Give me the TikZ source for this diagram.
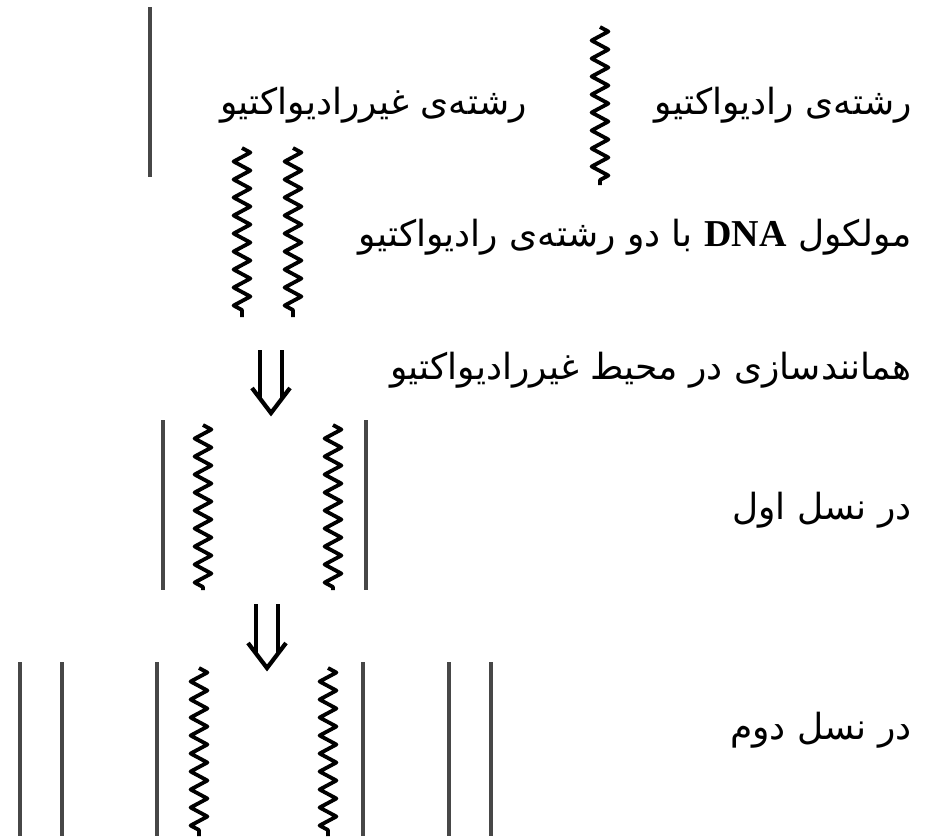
\documentclass[tikz,border=0pt]{standalone}
\usepackage{fontspec}
\setmainfont{Liberation Serif}
\newfontfamily\arabicfont[Script=Arabic]{DejaVu Sans}
\TeXXeTstate=1
\usetikzlibrary{decorations.pathmorphing}
\tikzset{
  coldstrand/.style={line width=1.6pt, black!72},
  hotstrand/.style={line width=1.9pt, line join=round, decorate,
    decoration={zigzag, segment length=9pt, amplitude=4.2pt}},
  genarrow/.style={line width=2pt, double distance=9pt, shorten >=7pt},
  arrowhead/.style={line width=2.1pt, line join=miter},
  rowlabel/.style={anchor=east, inner sep=0pt, font=\arabicfont\fontsize{18}{21}\selectfont}
}
\begin{document}
\begin{tikzpicture}[x=0.5pt, y=-0.5pt]
\useasboundingbox (0,0) rectangle (931,836);
% legend
\draw[coldstrand] (150,7) -- (150,177);
\node[rowlabel] (coldlab) at (527,105) {\beginR رشته‌ی غیررادیواکتیو\endR};
\draw[hotstrand] (600,27) -- (600,185);
\node[rowlabel] (hotlab) at (912,105) {\beginR رشته‌ی رادیواکتیو\endR};
% parent molecule
\draw[hotstrand] (242,148) -- (242,317);
\draw[hotstrand] (293,148) -- (293,317);
\node[rowlabel] (parentlab) at (912,237) {\beginR مولکول \beginL{\normalfont\bfseries\fontsize{19}{21}\selectfont DNA}\endL{} با دو رشته‌ی رادیواکتیو\endR};
% first replication
\coordinate (a1top) at (271,350);
\coordinate (a1tip) at (271,413);
\draw[genarrow] (a1top) -- (a1tip);
\draw[arrowhead] (a1tip) ++(-19,-25) -- (a1tip) -- ++(19,-25);
\node[rowlabel] (replab) at (912,370) {\beginR همانندسازی در محیط غیررادیواکتیو\endR};
% first generation
\draw[coldstrand] (163,420) -- (163,590);
\draw[hotstrand] (203,425) -- (203,590);
\draw[hotstrand] (333,425) -- (333,590);
\draw[coldstrand] (366,420) -- (366,590);
\node[rowlabel] (gen1lab) at (912,510) {\beginR در نسل اول\endR};
% second replication
\coordinate (a2top) at (267,604);
\coordinate (a2tip) at (267,668);
\draw[genarrow] (a2top) -- (a2tip);
\draw[arrowhead] (a2tip) ++(-19,-25) -- (a2tip) -- ++(19,-25);
% second generation
\foreach \x in {20,62,157,363,449,491}
  \draw[coldstrand] (\x,662) -- (\x,836);
\draw[hotstrand] (199,668) -- (199,836);
\draw[hotstrand] (328,668) -- (328,836);
\node[rowlabel] (gen2lab) at (912,730) {\beginR در نسل دوم\endR};
\end{tikzpicture}
\end{document}
